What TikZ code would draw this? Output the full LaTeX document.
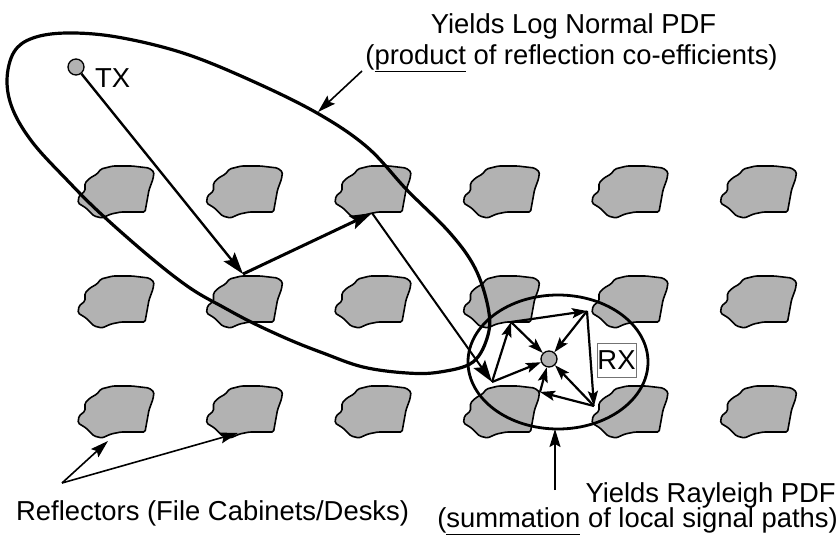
\documentclass[tikz,border=0pt]{standalone}
\usepackage{fontspec}
\setmainfont{Liberation Sans}
\usetikzlibrary{arrows.meta}

\newcommand{\ulword}[1]{\underline{#1\vphantom{p}}}

\begin{document}
\begin{tikzpicture}[x=1pt, y=-1pt,
                    font=\fontsize{27.4}{31}\selectfont,
                    desk/.pic={\draw[fill=black!30, line width=1.6pt, rounded corners=1.5pt]
                        (20,8) -- (24,3) -- (36,0) -- (55,0) -- (72,2) -- (77,6) -- (76,13)
                        -- (72,24) -- (68,46) -- (44,46) -- (34,48) -- (25,52) -- (17,50)
                        -- (9,42) -- (1,37) -- (2,30) -- (8,25) -- (8,17) -- (13,12) -- cycle;},
                    antenna/.style={draw, circle, fill=black!30, line width=1.3pt,
                                    minimum size=16pt, inner sep=0pt},
                    label/.style={inner sep=0pt},
                    ray/.style={line width=2.4pt, -{Stealth[length=22pt, width=14pt, inset=4pt]}},
                    local/.style={line width=2.2pt, -{Stealth[length=15pt, width=10pt, inset=3pt]}},
                    note/.style={line width=1.6pt, -{Stealth[length=18pt, width=11pt, inset=3pt]}},
                    zone/.style={line width=3.2pt}
                    ]
    \useasboundingbox (0,0) rectangle (839,541);

    % office floor: 3 rows of desks / cabinets
    \def\gridx{77}   \def\gridy{166}
    \def\stepx{128.5} \def\stepy{110}
    \foreach \r in {1,2,3}
        \foreach \c in {1,...,6}
            \pic at ({\gridx+\stepx*(\c-1)}, {\gridy+\stepy*(\r-1)}) {desk};

    % reflection points
    \coordinate (hit1) at (243,274);
    \coordinate (hit2) at (372,213);
    \coordinate (refA) at (511,322);
    \coordinate (refB) at (587,311);
    \coordinate (refC) at (492,382);
    \coordinate (refD) at (594,406);
    \coordinate (refE) at (540,392);

    % large scale zone (log normal)
    \draw[zone] plot[smooth cycle, tension=0.6] coordinates {
        (7,80) (14,52) (33,38) (67,33) (117,37) (183,53) (250,80) (317,113)
        (367,147) (407,190) (450,233) (475,268) (488,307) (488,335) (473,362)
        (440,372) (407,373) (363,367) (323,353) (290,340) (253,323) (223,307)
        (190,288) (150,257) (100,213) (67,180) (33,143) (13,110)};

    % local zone (rayleigh)
    \coordinate (rxzone) at (558,362);
    \draw[zone, line width=2.8pt] (rxzone) ellipse [x radius=90pt, y radius=67pt];

    \node[antenna] (tx) at (76,67) {};
    \node[label, anchor=base west] (txlabel) at (95,87) {TX};
    \node[antenna] (rx) at (549,359) {};
    \node[draw=black!55, line width=0.8pt, inner xsep=0.5pt, inner ysep=0pt,
          minimum height=34pt] (rxlabel) at (616.5,360) {RX};

    % path from TX
    \draw[ray] (tx) -- (hit1);
    \draw[ray, line width=3pt] (hit1) -- (hit2);
    \draw[ray, line width=2pt] (hit2) -- (refC);

    % local paths round RX
    \draw[local] (refC) -- (refA);
    \draw[local] (refA) -- (refB);
    \draw[local] (refB) -- (refD);
    \draw[local] (refD) -- (refE);
    \draw[local] (refA) -- (rx);
    \draw[local] (refB) -- (rx);
    \draw[local] (refC) -- (rx);
    \draw[local] (refD) -- (rx);
    \draw[local] (refE) -- (rx);

    % annotations
    \node[label, anchor=base] (lognormal) at (573.5,33) {Yields Log Normal PDF};
    \node[label, anchor=base] (lognormalwhy) at (571.5,64)
        {(\ulword{product} of reflection co-efficients)};
    \coordinate (lognote) at (362,71);
    \coordinate (zonetip) at (318,112);
    \draw[note] (lognote) -- (zonetip);

    \node[label, anchor=base west] (reflectors) at (16,520) {Reflectors (File Cabinets/Desks)};
    \coordinate (fork) at (62,483);
    \coordinate (deskA) at (108,441);
    \coordinate (deskB) at (238,433);
    \draw[note] (fork) -- (deskA);
    \draw[note] (fork) -- (deskB);

    \node[label, anchor=base east] (rayleigh) at (836,502) {Yields Rayleigh PDF};
    \node[label, anchor=base east] (rayleighwhy) at (838,527)
        {(\ulword{summation} of local signal paths)};
    \coordinate (rayleighnote) at (555,490);
    \coordinate (rxzonetip) at (555,429);
    \draw[note] (rayleighnote) -- (rxzonetip);
\end{tikzpicture}
\end{document}
